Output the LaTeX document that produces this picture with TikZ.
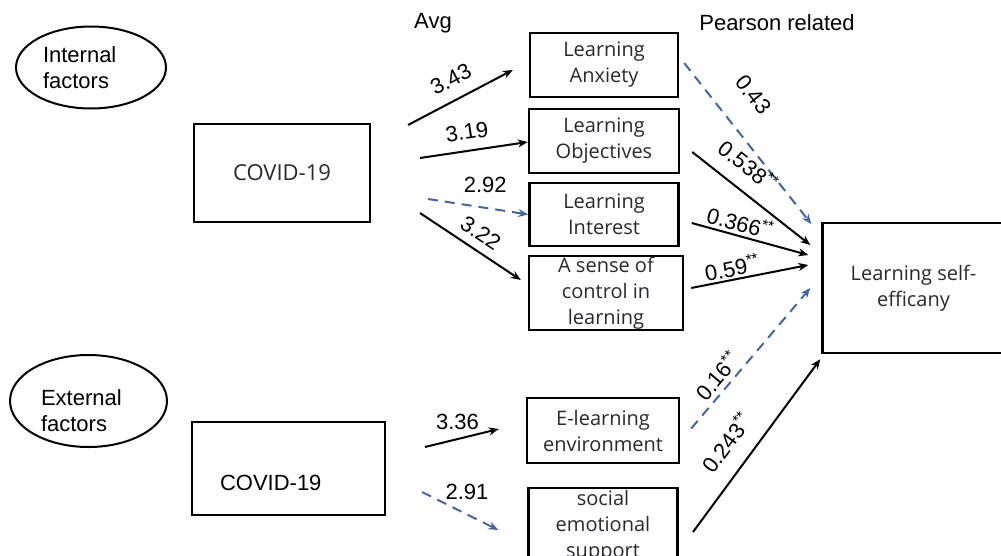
\documentclass[tikz,border=0pt]{standalone}
\usepackage{fontspec}
\setmainfont{Liberation Sans}
\newfontfamily\boxfont{Open Sans}
\usetikzlibrary{positioning, arrows.meta, shapes.geometric, calc}
\definecolor{dashblue}{RGB}{68,100,162}
\definecolor{boxtext}{RGB}{40,40,48}

\begin{document}
\begin{tikzpicture}[
    x=0.5pt, y=-0.5pt,
    % boxes for COVID-19, the factors and the outcome
    block/.style={
        draw,
        line width=1.2pt,
        rectangle,
        align=center,
        text=boxtext,
        font=\boxfont\fontsize{10}{13}\selectfont,
        inner sep=1pt
    },
    factor/.style={draw, line width=1pt, ellipse, inner sep=0pt, align=left,
        font=\fontsize{11}{13}\selectfont},
    arr/.style={-{Stealth[length=5pt, width=4pt]}, line width=1pt},
    dasharr/.style={arr, dashblue, dash pattern=on 5pt off 3.5pt},
    % numbers on the arrows
    lbl/.style={font=\fontsize{11}{13}\selectfont, inner sep=1pt, text=black},
    hdr/.style={font=\fontsize{11}{13}\selectfont}
]
    \useasboundingbox (0,0) rectangle (1001,556);

    % --- Nodes ---
    \node[factor, text width=48pt, minimum width=75pt, minimum height=41pt] (intl) at (91,67.5) {Internal\\factors};
    \node[factor, text width=47.5pt, minimum width=78.5pt, minimum height=46pt,
          text height=17pt, text depth=13pt] (extl) at (88.5,401) {External\\factors};

    \node[hdr] (avg) at (433,23) {Avg};
    \node[hdr] (pearson) at (777,23) {Pearson related};

    \node[block, font=\boxfont\fontsize{11}{13}\selectfont, minimum width=88pt, minimum height=49pt] (cov1) at (282,173) {COVID-19};
    \node[block, font=\fontsize{11}{13}\selectfont, text=black, align=left, text width=68.5pt,
          text height=21.5pt, text depth=0pt, minimum width=96.5pt, minimum height=46.5pt] (cov2) at (288.5,468.5) {COVID-19};

    % middle column, stacked
    \node[block, minimum width=74pt, minimum height=32pt] (anx) at (604,65) {Learning\\Anxiety};
    \node[block, minimum width=75pt, minimum height=32pt, below=4.8pt of anx] (obj) {Learning\\Objectives};
    \node[block, minimum width=74.5pt, minimum height=31.5pt, below=3.8pt of obj] (int) {Learning\\Interest};
    \node[block, minimum width=77pt, minimum height=37pt, inner sep=0pt, below=3.8pt of int, xshift=1pt] (ctl) {A sense of\\control in\\learning};

    \node[block, minimum width=76pt, minimum height=32.5pt] (elr) at (603,430.5) {E-learning\\environment};
    \node[block, minimum width=74.5pt, minimum height=38pt, inner sep=0pt, below=11.3pt of elr] (soc) {social\\emotional\\support};

    \node[block, minimum width=91pt, minimum height=65pt] (eff) at (913.5,288) {Learning self-\\efficany};

    % --- Edges ---
    \coordinate (t1) at (408,125);
    \coordinate (t2) at (420,158);
    \coordinate (t3) at (428,199);
    \coordinate (t4) at (420,213);
    \coordinate (t10) at (693,532);
    \coordinate (t11) at (425,447);
    \coordinate (t12) at (422,492);

    % COVID-19 to the internal factors
    \draw[arr] (t1) -- ([shift={(-16,5)}]anx.west)
        node[lbl, pos=0.5, sloped, above=5pt] {3.43};
    \draw[arr] (t2) -- ([shift={(0,1)}]obj.west)
        node[lbl, pos=0.46, sloped, above=4pt] {3.19};
    \draw[dasharr] (t3) -- (int.west)
        node[lbl, pos=0.57, above=6pt] {2.92};
    \draw[arr] (t4) -- ([shift={(-7,-13)}]ctl.west)
        node[lbl, pos=0.51, sloped, above=3pt] {3.22};

    % internal factors to self-efficacy
    \draw[dasharr] ([shift={(5,-2)}]anx.east) -- ([shift={(-10,-64)}]eff.west)
        node[lbl, pos=0.33, sloped, above=12pt] {0.43};
    \draw[arr] ([shift={(12,11)}]obj.east) -- ([shift={(-11,-43)}]eff.west)
        node[lbl, pos=0.35, sloped, above=6pt] {0.538\textsuperscript{**}};
    \draw[arr] ([shift={(12,8.5)}]int.east) -- ([shift={(-13,-33)}]eff.west)
        node[lbl, pos=0.39, sloped, above=0.5pt] {0.366\textsuperscript{**}};
    \draw[arr] ([shift={(7,-5)}]ctl.east) -- ([shift={(-13,-23)}]eff.west)
        node[lbl, pos=0.37, sloped, above=0pt] {0.59\textsuperscript{**}};

    % COVID-19 to the external factors
    \draw[arr] (t11) -- ([shift={(-27,-1.5)}]elr.west)
        node[lbl, pos=0.44, above=3pt] {3.36};
    \draw[dasharr] (t12) -- ([shift={(-29,4)}]soc.west)
        node[lbl, pos=0.59, above=6pt] {2.91};

    % external factors to self-efficacy
    \draw[dasharr] ([shift={(11,-2)}]elr.east) -- ([shift={(-11,0)}]eff.west)
        node[lbl, pos=0.31, sloped, above=1pt] {0.16\textsuperscript{**}};
    \draw[arr] (t10) -- ([shift={(-1,5)}]eff.south west)
        node[lbl, pos=0.43, sloped, above=7pt] {0.243\textsuperscript{**}};

\end{tikzpicture}
\end{document}
